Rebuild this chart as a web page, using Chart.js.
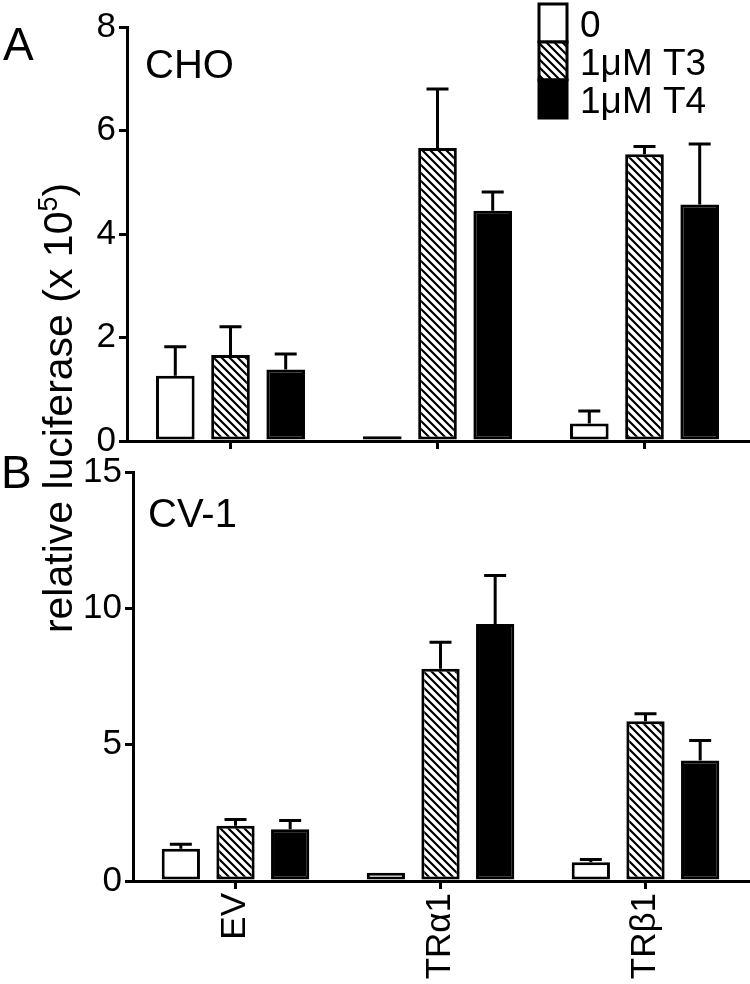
<!DOCTYPE html>
<html>
<head>
<meta charset="utf-8">
<script src="https://cdn.jsdelivr.net/npm/chart.js@4.4.1/dist/chart.umd.min.js"></script>
<style>
  html, body { margin: 0; padding: 0; background: #fff; }
  #wrap { position: relative; width: 750px; height: 984px; }
  canvas { position: absolute; left: 0; top: 0; }
</style>
</head>
<body>
<div id="wrap">
  <canvas id="cho" width="750" height="984"></canvas>
  <canvas id="cv" width="750" height="984"></canvas>
</div>
<script>
const groups = ['EV', 'TRα1', 'TRβ1'];
const treatments = ['0', '1μM T3', '1μM T4'];

// panel A, CHO cells (x 10^5)
const choControl = [1.26, 0.09, 0.34];
const choT3 = [1.66, 5.66, 5.54];
const choT4 = [1.38, 4.45, 4.57];
const choControlErr = [0.56, 0, 0.24];
const choT3Err = [0.55, 1.14, 0.15];
const choT4Err = [0.30, 0.36, 1.17];
const choTicks = [0, 2, 4, 6, 8];

// panel B, CV-1 cells
const cvControl = [1.18, 0.30, 0.69];
const cvT3 = [2.03, 7.78, 5.86];
const cvT4 = [1.90, 9.43, 4.42];
const cvControlErr = [0.17, 0, 0.10];
const cvT3Err = [0.23, 0.98, 0.27];
const cvT4Err = [0.32, 1.77, 0.73];
const cvTicks = [0, 5, 10, 15];

const FONT = '"Liberation Sans", Arial, sans-serif';

// diagonal hatch for the T3 bars
function makeHatch() {
  const c = document.createElement('canvas');
  c.width = 8; c.height = 8;
  const g = c.getContext('2d');
  g.fillStyle = '#fff';
  g.fillRect(0, 0, 8, 8);
  g.strokeStyle = '#000';
  g.lineWidth = 2.2;
  g.beginPath();
  g.moveTo(-1, -1); g.lineTo(9, 9);
  g.moveTo(-1, 7); g.lineTo(1, 9);
  g.moveTo(7, -1); g.lineTo(9, 1);
  g.stroke();
  return g.createPattern(c, 'repeat');
}
const fills = ['#fff', makeHatch(), '#000'];

const errorBars = {
  id: 'errorBars',
  afterDatasetsDraw(chart) {
    const ctx = chart.ctx;
    const y = chart.scales.y;
    ctx.save();
    ctx.strokeStyle = '#000';
    ctx.lineWidth = 3;
    chart.data.datasets.forEach((ds, i) => {
      chart.getDatasetMeta(i).data.forEach((bar, j) => {
        const e = ds.errors[j];
        if (!e) return;
        const top = y.getPixelForValue(ds.data[j] + e);
        ctx.beginPath();
        ctx.moveTo(bar.x, bar.y);
        ctx.lineTo(bar.x, top);
        ctx.moveTo(bar.x - 11, top);
        ctx.lineTo(bar.x + 11, top);
        ctx.stroke();
      });
    });
    ctx.restore();
  }
};

function barChart(id, series, errs, ticks, area, showLabels, extra) {
  return new Chart(document.getElementById(id), {
    type: 'bar',
    data: {
      labels: groups,
      datasets: series.map((d, k) => ({
        label: treatments[k],
        data: d,
        errors: errs[k],
        backgroundColor: fills[k],
        borderColor: '#000',
        borderWidth: 3,
        borderSkipped: false,
        categoryPercentage: 0.8,
        barPercentage: 0.7
      }))
    },
    options: {
      responsive: false,
      animation: false,
      events: [],
      layout: { padding: { top: area.top, right: 2, left: 0, bottom: 0 } },
      plugins: { legend: { display: false }, tooltip: { enabled: false } },
      scales: {
        x: {
          grid: { offset: false, drawOnChartArea: false, color: '#000', lineWidth: 3, tickLength: 8 },
          border: { color: '#000', width: 3 },
          ticks: {
            display: showLabels, color: '#000', font: { family: FONT, size: 35 },
            minRotation: 90, maxRotation: 90, padding: 4, autoSkip: false
          },
          afterFit(s) { s.height = 984 - area.bottom; }
        },
        y: {
          min: 0,
          max: ticks[ticks.length - 1],
          grid: { drawOnChartArea: false, color: '#000', lineWidth: 3, tickLength: 8 },
          border: { color: '#000', width: 3 },
          ticks: { stepSize: ticks[1] - ticks[0], color: '#000', font: { family: FONT, size: 35 }, padding: 3 },
          afterFit(s) { s.width = area.left; }
        }
      }
    },
    plugins: [errorBars, extra]
  });
}

const panelA = {
  id: 'panelA',
  afterDraw(chart) {
    const ctx = chart.ctx;
    ctx.save();
    ctx.fillStyle = '#000';
    ctx.textBaseline = 'alphabetic';
    ctx.font = '46px ' + FONT;
    ctx.fillText('A', 3, 60);
    ctx.font = '40px ' + FONT;
    ctx.fillText('CHO', 145, 78);

    // legend
    ctx.lineWidth = 3;
    ctx.strokeStyle = '#000';
    treatments.forEach((t, k) => {
      const y0 = 4 + k * 38;
      ctx.fillStyle = fills[k];
      ctx.fillRect(539, y0, 28, 38);
      ctx.strokeRect(539, y0, 28, 38);
      ctx.fillStyle = '#000';
      ctx.font = '37px ' + FONT;
      ctx.fillText(t, 580, y0 + 33);
    });

    // shared y title with superscript
    ctx.translate(72, 408);
    ctx.rotate(-Math.PI / 2);
    const main = 'relative luciferase (x 10';
    ctx.font = '41px ' + FONT;
    const w1 = ctx.measureText(main).width;
    const w3 = ctx.measureText(')').width;
    ctx.font = '27px ' + FONT;
    const w2 = ctx.measureText('5').width;
    let x = -(w1 + w2 + w3) / 2;
    ctx.font = '41px ' + FONT;
    ctx.fillText(main, x, 0);
    ctx.font = '27px ' + FONT;
    ctx.fillText('5', x + w1, -15);
    ctx.font = '41px ' + FONT;
    ctx.fillText(')', x + w1 + w2, 0);
    ctx.restore();
  }
};

const panelB = {
  id: 'panelB',
  afterDraw(chart) {
    const ctx = chart.ctx;
    ctx.save();
    ctx.fillStyle = '#000';
    ctx.font = '46px ' + FONT;
    ctx.fillText('B', 1, 488);
    ctx.font = '40px ' + FONT;
    ctx.fillText('CV-1', 148, 527);
    ctx.restore();
  }
};

barChart('cho', [choControl, choT3, choT4], [choControlErr, choT3Err, choT4Err], choTicks,
  { top: 27, left: 127, bottom: 441 }, false, panelA);
barChart('cv', [cvControl, cvT3, cvT4], [cvControlErr, cvT3Err, cvT4Err], cvTicks,
  { top: 472, left: 133, bottom: 881 }, true, panelB);
</script>
</body>
</html>
